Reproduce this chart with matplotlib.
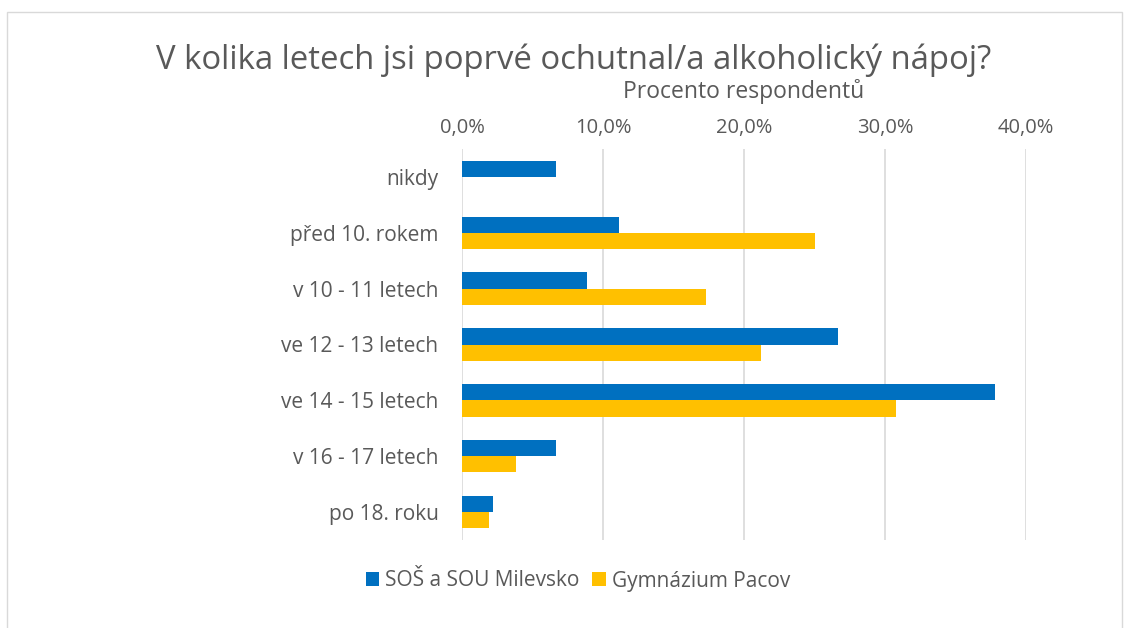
import matplotlib.pyplot as plt
import matplotlib.patches as mpatches
from matplotlib.ticker import FuncFormatter
import numpy as np

categories = ["nikdy", "před 10. rokem", "v 10 - 11 letech", "ve 12 - 13 letech",
              "ve 14 - 15 letech", "v 16 - 17 letech", "po 18. roku"]
milevsko = [6.7, 11.1, 8.9, 26.7, 37.8, 6.7, 2.2]
pacov = [0.0, 25.0, 17.3, 21.2, 30.8, 3.8, 1.9]
series_names = ["SOŠ a SOU Milevsko", "Gymnázium Pacov"]

BLUE = "#0070C0"
YELLOW = "#FFC000"
TEXT = "#595959"

plt.rcParams['font.family'] = ['Open Sans', 'DejaVu Sans']

fig = plt.figure(figsize=(11.29, 6.28), dpi=100)
fig.patches.append(mpatches.Rectangle((7 / 1129, -0.01), 1115 / 1129, 1 - 12 / 628 + 0.01,
                                      transform=fig.transFigure, fill=False,
                                      edgecolor="#D9D9D9", linewidth=1))

ax = fig.add_axes([462 / 1129, 1 - 540 / 628, 564 / 1129, 391 / 628])

y = np.arange(len(categories))
h = 0.29
ax.barh(y - h / 2, milevsko, height=h, color=BLUE, label=series_names[0], zorder=3)
ax.barh(y + h / 2, pacov, height=h, color=YELLOW, label=series_names[1], zorder=3)

ax.set_ylim(len(categories) - 0.5, -0.5)
ax.set_xlim(0, 40)
ax.set_xticks([0, 10, 20, 30, 40])
ax.xaxis.set_major_formatter(FuncFormatter(lambda v, p: f"{v:.1f}%".replace(".", ",")))
ax.xaxis.tick_top()
ax.tick_params(axis="x", length=0, pad=8, labelsize=14.5, labelcolor=TEXT)
ax.set_yticks(y)
ax.set_yticklabels(categories)
ax.tick_params(axis="y", length=0, pad=17, labelsize=15, labelcolor=TEXT)
ax.grid(axis="x", color="#D9D9D9", linewidth=1.2, zorder=0)
for s in ax.spines.values():
    s.set_visible(False)

ax.set_xlabel("Procento respondentů", fontsize=16.5, color=TEXT, labelpad=14)
ax.xaxis.set_label_position("top")

fig.text(574 / 1129, 1 - 60 / 628, "V kolika letech jsi poprvé ochutnal/a alkoholický nápoj?",
         ha="center", va="center", fontsize=23.7, color=TEXT)

leg = fig.legend(loc="center", bbox_to_anchor=(578 / 1129, 1 - 581 / 628), ncol=2,
                 frameon=False, fontsize=15, handlelength=0.65, handleheight=0.65,
                 handletextpad=0.3, columnspacing=0.6)
for t in leg.get_texts():
    t.set_color(TEXT)

fig.savefig("out.png", dpi=100)
